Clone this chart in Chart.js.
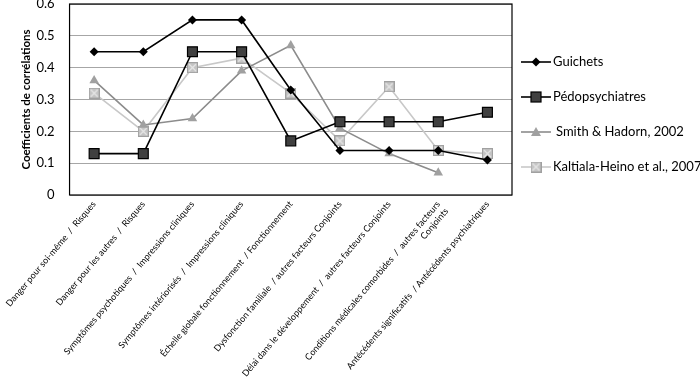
<!DOCTYPE html>
<html>
<head>
<meta charset="utf-8">
<script src="https://cdn.jsdelivr.net/npm/chart.js@4"></script>
<style>
html,body{margin:0;padding:0;background:#fff;}
#wrap{width:700px;height:384px;}
</style>
</head>
<body>
<div id="wrap"><canvas id="c" width="700" height="384"></canvas></div>
<script>
const categories = [
  'Danger pour soi-même  /  Risques',
  'Danger pour les autres  /  Risques',
  'Symptômes psychotiques  /  Impressions cliniques',
  'Symptômes intériorisés  /  Impressions cliniques',
  'Échelle globale fonctionnement  / Fonctionnement',
  'Dysfonction familiale  / autres facteurs Conjoints',
  'Délai dans le développement  /  autres facteurs Conjoints',
  ['Conditions médicales comorbides  /  autres facteurs', 'Conjoints'],
  'Antécédents significatifs  / Antécédents psychiatriques'
];
const seriesNames = ['Guichets', 'Pédopsychiatres', 'Smith & Hadorn, 2002', 'Kaltiala-Heino et al., 2007'];
const guichets = [0.45, 0.45, 0.55, 0.55, 0.33, 0.14, 0.14, 0.14, 0.11];
const pedopsychiatres = [0.13, 0.13, 0.45, 0.45, 0.17, 0.23, 0.23, 0.23, 0.26];
const smithHadorn = [0.36, 0.22, 0.24, 0.39, 0.47, 0.21, 0.13, 0.07, null];
const kaltiala = [0.32, 0.20, 0.40, 0.43, 0.32, 0.17, 0.34, 0.14, 0.13];
const yTicks = [0, 0.1, 0.2, 0.3, 0.4, 0.5, 0.6];
const yTitle = 'Coefficients de corrélations';

const FONT = 'Lato, "Open Sans", sans-serif';

function markerCanvas(size, draw) {
  const c = document.createElement('canvas');
  c.width = size; c.height = size;
  draw(c.getContext('2d'), size);
  return c;
}
const kaltialaMarker = markerCanvas(11, (g, s) => {
  g.fillStyle = '#c4c4c4';
  g.fillRect(0, 0, s, s);
  g.strokeStyle = '#a0a0a0';
  g.lineWidth = 1;
  g.strokeRect(0.5, 0.5, s - 1, s - 1);
  g.strokeStyle = '#e8e8e8';
  g.lineWidth = 1.2;
  g.beginPath();
  g.moveTo(2, 2); g.lineTo(s - 2, s - 2);
  g.moveTo(s - 2, 2); g.lineTo(2, s - 2);
  g.stroke();
});

const legendMarkers = [
  (g, x, y) => { g.fillStyle = '#000'; g.beginPath(); g.moveTo(x, y - 4.5); g.lineTo(x + 4.5, y); g.lineTo(x, y + 4.5); g.lineTo(x - 4.5, y); g.closePath(); g.fill(); },
  (g, x, y) => { g.fillStyle = '#404040'; g.fillRect(x - 5, y - 5, 10, 10); g.strokeStyle = '#000'; g.lineWidth = 1.2; g.strokeRect(x - 5, y - 5, 10, 10); },
  (g, x, y) => { g.fillStyle = '#a0a0a0'; g.beginPath(); g.moveTo(x, y - 5); g.lineTo(x + 5, y + 4); g.lineTo(x - 5, y + 4); g.closePath(); g.fill(); },
  (g, x, y) => { g.drawImage(kaltialaMarker, x - 5.5, y - 5.5); }
];

const customLegend = {
  id: 'customLegend',
  afterDraw(chart) {
    const a = chart.chartArea, g = chart.ctx;
    g.save();
    g.font = '13px ' + FONT;
    g.textBaseline = 'middle';
    g.textAlign = 'left';
    chart.data.datasets.forEach((d, i) => {
      const y = a.top + 58 + i * 35;
      const x0 = a.right + 9;
      g.strokeStyle = d.borderColor;
      g.lineWidth = 1.6;
      g.beginPath(); g.moveTo(x0, y); g.lineTo(x0 + 30, y); g.stroke();
      legendMarkers[i](g, x0 + 15, y);
      g.fillStyle = '#000';
      g.fillText(d.label, x0 + 32 + (i === 2 ? 3 : 0), y);
    });
    g.restore();
  }
};

const plotBorder = {
  id: 'plotBorder',
  afterDatasetsDraw(chart) {
    const a = chart.chartArea, g = chart.ctx;
    g.save();
    g.strokeStyle = '#000';
    g.lineWidth = 1.2;
    g.strokeRect(a.left, a.top, a.right - a.left, a.bottom - a.top);
    g.restore();
  }
};

new Chart(document.getElementById('c'), {
  type: 'line',
  data: {
    labels: categories,
    datasets: [
      { label: seriesNames[0], data: guichets, borderColor: '#000', backgroundColor: '#000', borderWidth: 1.6,
        pointStyle: 'rectRot', pointRadius: 4.5, pointBorderWidth: 0, pointBackgroundColor: '#000', tension: 0 },
      { label: seriesNames[1], data: pedopsychiatres, borderColor: '#000', backgroundColor: '#404040', borderWidth: 1.6,
        pointStyle: 'rect', pointRadius: 7, pointBorderWidth: 1.2, pointBorderColor: '#000', pointBackgroundColor: '#404040', tension: 0 },
      { label: seriesNames[2], data: smithHadorn, borderColor: '#8c8c8c', backgroundColor: '#a0a0a0', borderWidth: 1.6,
        pointStyle: 'triangle', pointRadius: 5.5, pointBorderWidth: 0, pointBackgroundColor: '#a0a0a0', tension: 0 },
      { label: seriesNames[3], data: kaltiala, borderColor: '#c8c8c8', backgroundColor: '#c4c4c4', borderWidth: 1.6,
        pointStyle: kaltialaMarker, pointRadius: 5.5, tension: 0 }
    ]
  },
  options: {
    responsive: false,
    animation: false,
    layout: { autoPadding: false, padding: { top: 0, right: 188, left: 0, bottom: 0 } },
    plugins: {
      legend: { display: false },
      tooltip: { enabled: false }
    },
    scales: {
      x: {
        offset: true,
        grid: { display: false, drawTicks: false },
        border: { display: false },
        afterFit(axis) { axis.height = 189; },
        ticks: {
          autoSkip: false, maxRotation: 50, minRotation: 50, padding: 4,
          color: '#000', font: { family: FONT, size: 9 }
        }
      },
      y: {
        min: 0, max: 0.6,
        afterBuildTicks(axis) { axis.ticks = yTicks.map(v => ({ value: v })); },
        afterFit(axis) { axis.paddingTop = 4; axis.paddingBottom = 0; axis.width = 68; },
        grid: { color: '#a6a6a6', lineWidth: 1, drawTicks: false },
        border: { display: false },
        ticks: { padding: 15, color: '#000', font: { family: FONT, size: 13 } },
        title: { display: true, text: yTitle, color: '#000', font: { family: FONT, size: 11.5, weight: 'bold' }, padding: { top: 18, bottom: 0 } }
      }
    }
  },
  plugins: [plotBorder, customLegend]
});
</script>
</body>
</html>
